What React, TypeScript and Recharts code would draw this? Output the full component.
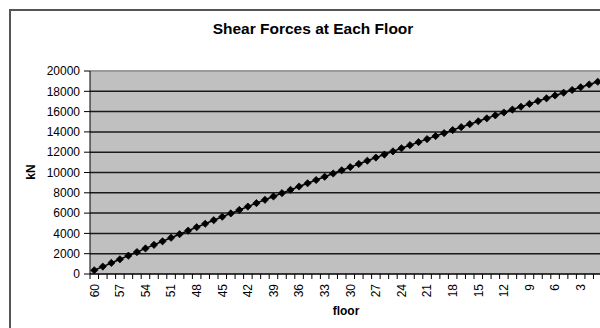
import React from 'react';
import { LineChart, Line, XAxis, YAxis, CartesianGrid, ReferenceLine } from 'recharts';

// floors listed top of the building first
const floors = [
  60, 59, 58, 57, 56, 55, 54, 53, 52, 51, 50, 49, 48, 47, 46, 45, 44, 43, 42, 41,
  40, 39, 38, 37, 36, 35, 34, 33, 32, 31, 30, 29, 28, 27, 26, 25, 24, 23, 22, 21,
  20, 19, 18, 17, 16, 15, 14, 13, 12, 11, 10, 9, 8, 7, 6, 5, 4, 3, 2, 1,
];

// storey shear in kN, same order as floors
const shear = [
  370, 730, 1090, 1450, 1810, 2160, 2520, 2870, 3220, 3570,
  3920, 4270, 4610, 4950, 5300, 5640, 5970, 6310, 6640, 6980,
  7310, 7640, 7970, 8290, 8620, 8940, 9260, 9580, 9900, 10220,
  10530, 10840, 11160, 11470, 11770, 12080, 12390, 12690, 12990, 13290,
  13590, 13880, 14180, 14470, 14760, 15050, 15340, 15630, 15910, 16200,
  16480, 16760, 17040, 17310, 17590, 17860, 18130, 18400, 18670, 18940,
];

const yTicks = [0, 2000, 4000, 6000, 8000, 10000, 12000, 14000, 16000, 18000, 20000];
const gridValues = yTicks.filter((v) => v > 0 && v < 20000);

const data = floors.map((floor, i) => ({ floor, kN: shear[i] }));

const FONT = '"Liberation Sans", Arial, sans-serif';
const PLOT_W = 512;

const FloorTick = (props: any) => {
  const { x, y, payload, index } = props;
  const half = payload?.offset || PLOT_W / floors.length / 2;
  const tx = x - half;
  const ly = y + 10;
  return (
    <g>
      <line x1={tx} x2={tx} y1={y} y2={y + 5} stroke="#000" strokeWidth={1} />
      {index % 3 === 0 && (
        <text
          x={x}
          y={ly}
          dy="0.36em"
          textAnchor="end"
          transform={`rotate(-90, ${x}, ${ly})`}
          fontFamily={FONT}
          fontSize={12}
          fill="#000"
        >
          {payload.value}
        </text>
      )}
    </g>
  );
};

const Diamond = (props: any) => {
  const { cx, cy, index } = props;
  const r = 3.6;
  return (
    <path
      key={`d-${index}`}
      d={`M${cx},${cy - r}L${cx + r},${cy}L${cx},${cy + r}L${cx - r},${cy}Z`}
      fill="#000"
      stroke="#000"
      strokeWidth={0.8}
    />
  );
};

export default function App() {
  return (
    <div
      style={{
        position: 'fixed',
        left: 0,
        top: 0,
        width: 600,
        height: 328,
        overflow: 'hidden',
        background: '#fff',
      }}
    >
      <div
        style={{
          position: 'absolute',
          left: 9,
          top: 9,
          width: 610,
          height: 340,
          border: '2px solid #555',
          boxSizing: 'border-box',
        }}
      />
      <div
        style={{
          position: 'absolute',
          left: 0,
          top: 20,
          width: 626,
          textAlign: 'center',
          fontFamily: FONT,
          fontWeight: 'bold',
          fontSize: 15.5,
          color: '#000',
        }}
      >
        Shear Forces at Each Floor
      </div>
      <div style={{ position: 'absolute', left: 0, top: 0 }}>
        <LineChart
          width={620}
          height={328}
          data={data}
          margin={{ top: 71, right: 18, bottom: 0, left: 0 }}
        >
          <CartesianGrid
            vertical={false}
            horizontalValues={gridValues}
            stroke="#1a1a1a"
            strokeWidth={1.5}
            fill="#c0c0c0"
            fillOpacity={1}
          />
          <ReferenceLine y={20000} stroke="#9a9a9a" strokeWidth={2} />
          <XAxis
            dataKey="floor"
            scale="band"
            interval={0}
            height={54}
            tickSize={0}
            tickMargin={0}
            tickLine={false}
            axisLine={{ stroke: '#000', strokeWidth: 1.5 }}
            tick={<FloorTick />}
            label={{
              content: (p: any) => {
                const vb = p.viewBox;
                return (
                  <text
                    x={vb.x + vb.width / 2}
                    y={315}
                    textAnchor="middle"
                    fontFamily={FONT}
                    fontWeight="bold"
                    fontSize={12}
                    fill="#000"
                  >
                    floor
                  </text>
                );
              },
            }}
          />
          <YAxis
            domain={[0, 20000]}
            ticks={yTicks}
            interval={0}
            width={90}
            tickSize={6}
            tickMargin={4}
            axisLine={{ stroke: '#000', strokeWidth: 1 }}
            tickLine={{ stroke: '#000' }}
            tick={{ fill: '#000', fontSize: 12, fontFamily: FONT }}
            label={{
              content: () => (
                <text
                  x={31}
                  y={172}
                  dy="0.36em"
                  textAnchor="middle"
                  transform="rotate(-90, 31, 172)"
                  fontFamily={FONT}
                  fontWeight="bold"
                  fontSize={12}
                  fill="#000"
                >
                  kN
                </text>
              ),
            }}
          />
          <Line
            type="linear"
            dataKey="kN"
            stroke="#000"
            strokeWidth={1.5}
            dot={Diamond}
            activeDot={false}
            isAnimationActive={false}
          />
        </LineChart>
      </div>
    </div>
  );
}
